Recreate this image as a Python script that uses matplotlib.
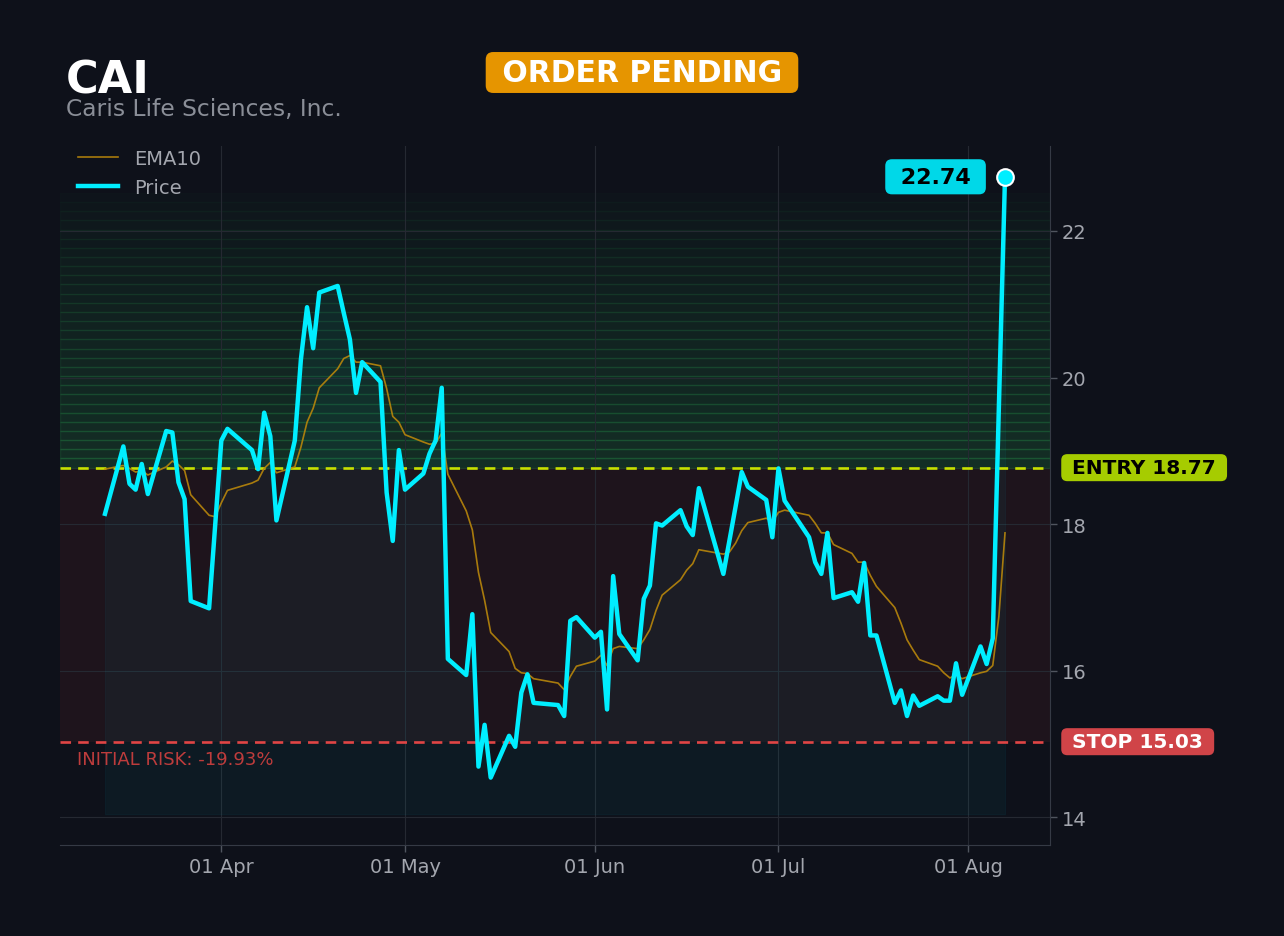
import matplotlib
matplotlib.use("Agg")
import matplotlib.pyplot as plt
import matplotlib.dates as mdates
import matplotlib.transforms as mtransforms
import pandas as pd

# ---------------- data ----------------
ticker = "CAI"
company = "Caris Life Sciences, Inc."
status = "ORDER PENDING"
entry_price = 18.77
stop_price = 15.03
target_price = 22.52
fill_floor = 14.04
risk_label = "INITIAL RISK: -19.93%"

dates = [
    "2026-03-13", "2026-03-16", "2026-03-17", "2026-03-18", "2026-03-19", "2026-03-20",
    "2026-03-23", "2026-03-24", "2026-03-25", "2026-03-26", "2026-03-27", "2026-03-30",
    "2026-03-31",
    "2026-04-01", "2026-04-02", "2026-04-06", "2026-04-07", "2026-04-08", "2026-04-09",
    "2026-04-10", "2026-04-13", "2026-04-14", "2026-04-15", "2026-04-16", "2026-04-17",
    "2026-04-20", "2026-04-21", "2026-04-22", "2026-04-23", "2026-04-24", "2026-04-27",
    "2026-04-28", "2026-04-29", "2026-04-30",
    "2026-05-01", "2026-05-04", "2026-05-05", "2026-05-06", "2026-05-07", "2026-05-08",
    "2026-05-11", "2026-05-12", "2026-05-13", "2026-05-14", "2026-05-15", "2026-05-18",
    "2026-05-19", "2026-05-20", "2026-05-21", "2026-05-22", "2026-05-26", "2026-05-27",
    "2026-05-28", "2026-05-29",
    "2026-06-01", "2026-06-02", "2026-06-03", "2026-06-04", "2026-06-05", "2026-06-08",
    "2026-06-09", "2026-06-10", "2026-06-11", "2026-06-12", "2026-06-15", "2026-06-16",
    "2026-06-17", "2026-06-18", "2026-06-22", "2026-06-23", "2026-06-24", "2026-06-25",
    "2026-06-26", "2026-06-29", "2026-06-30",
    "2026-07-01", "2026-07-02", "2026-07-06", "2026-07-07", "2026-07-08", "2026-07-09",
    "2026-07-10", "2026-07-13", "2026-07-14", "2026-07-15", "2026-07-16", "2026-07-17",
    "2026-07-20", "2026-07-21", "2026-07-22", "2026-07-23", "2026-07-24", "2026-07-27",
    "2026-07-28", "2026-07-29", "2026-07-30", "2026-07-31",
    "2026-08-03", "2026-08-04", "2026-08-05", "2026-08-06", "2026-08-07",
]

price = [
    18.14, 19.06, 18.55, 18.47, 18.82, 18.41, 19.27, 19.25, 18.57, 18.34, 16.95, 16.85, 17.99,
    19.14, 19.30, 19.01, 18.75, 19.52, 19.20, 18.05, 19.14, 20.25, 20.96, 20.40, 21.16,
    21.25, 20.88, 20.52, 19.79, 20.21, 19.94, 18.43, 17.77, 19.01,
    18.47, 18.69, 18.96, 19.14, 19.86, 16.16, 15.94, 16.77, 14.69, 15.26, 14.54, 15.11,
    14.96, 15.70, 15.95, 15.56, 15.53, 15.38, 16.68, 16.73,
    16.45, 16.53, 15.47, 17.29, 16.50, 16.14, 16.98, 17.16, 18.01, 17.98, 18.19, 17.97,
    17.85, 18.49, 17.32, 17.78, 18.24, 18.71, 18.51, 18.33, 17.82,
    18.76, 18.32, 17.82, 17.48, 17.32, 17.88, 16.99, 17.07, 16.94, 17.47, 16.48, 16.48,
    15.56, 15.73, 15.38, 15.66, 15.52, 15.65, 15.59, 15.59, 16.10, 15.67,
    16.33, 16.09, 16.44, 19.60, 22.74,
]

ema10 = [
    18.75, 18.80, 18.76, 18.71, 18.73, 18.67, 18.78, 18.86, 18.81, 18.73, 18.40, 18.12, 18.10,
    18.29, 18.46, 18.56, 18.60, 18.76, 18.84, 18.70, 18.78, 19.05, 19.39, 19.58, 19.86,
    20.12, 20.26, 20.30, 20.21, 20.21, 20.16, 19.85, 19.47, 19.39,
    19.22, 19.12, 19.09, 19.10, 19.24, 18.68, 18.18, 17.92, 17.34, 16.96, 16.52, 16.26,
    16.03, 15.97, 15.96, 15.89, 15.83, 15.74, 15.92, 16.06,
    16.13, 16.21, 16.07, 16.30, 16.33, 16.30, 16.42, 16.56, 16.82, 17.03, 17.24, 17.37,
    17.46, 17.65, 17.59, 17.62, 17.74, 17.91, 18.02, 18.08, 18.03,
    18.16, 18.19, 18.12, 18.01, 17.88, 17.88, 17.72, 17.60, 17.48, 17.48, 17.30, 17.15,
    16.86, 16.65, 16.42, 16.28, 16.15, 16.06, 15.97, 15.90, 15.94, 15.89,
    15.97, 15.99, 16.07, 16.74, 17.88,
]

y_ticks = [14, 16, 18, 20, 22]

# ---------------- style ----------------
BG = "#0e111a"
CYAN = "#00eeff"
TXT = "#a3a6ae"
GRID = "#252932"

dt = pd.to_datetime(dates)

fig = plt.figure(figsize=(12.84, 9.37), dpi=100, facecolor=BG)
ax = fig.add_axes([60 / 1284, 91 / 937, 990 / 1284, 699 / 937])
ax.set_facecolor(BG)

# risk zone
ax.axhspan(stop_price, entry_price, facecolor="#e03a3a", alpha=0.08, lw=0, zorder=0.1)

# profit zone gradient (stacked bands)
n_bands = 30
step = (target_price - entry_price) / n_bands
for i in range(n_bands):
    a = 0.19 * (1 - i / n_bands) ** 0.8 + 0.012
    ax.axhspan(entry_price + i * step, entry_price + (i + 1) * step,
               color="#2aa050", alpha=a, lw=1.0, zorder=0.2)

# area under price
ax.fill_between(dt, price, fill_floor, facecolor="#00e5ff", edgecolor="#00e5ff",
                alpha=0.045, lw=0.8, zorder=1)

# entry / stop lines
ax.axhline(entry_price, color="#c8e000", lw=1.9, ls=(0, (4, 2.7)), zorder=3)
ax.axhline(stop_price, color="#e04545", lw=1.9, ls=(0, (4, 2.7)), zorder=3)

# lines
ax.plot(dt, ema10, color="#b8860b", lw=1.2, alpha=0.9, label="EMA10", zorder=4)
ax.plot(dt, price, color=CYAN, lw=3.2, label="Price", zorder=5)
ax.plot(dt[-1], price[-1], "o", ms=12, mfc=CYAN, mec="white", mew=1.5, zorder=6)

# last price label
ax.annotate(f" {price[-1]:.2f} ", xy=(dt[-1], price[-1]), xytext=(-50, 0),
            textcoords="offset points", ha="center", va="center",
            fontsize=16, fontweight="bold", color="black",
            bbox=dict(boxstyle="round,pad=0.34,rounding_size=0.3", fc="#00d8e8", ec="none"),
            zorder=7)

# entry / stop tags on right
ax.annotate(f" ENTRY {entry_price:.2f} ", xy=(1, entry_price),
            xycoords=("axes fraction", "data"), xytext=(11, 0),
            textcoords="offset points", ha="left", va="center",
            fontsize=14.5, fontweight="bold", color="black",
            bbox=dict(boxstyle="round,pad=0.2,rounding_size=0.3", fc="#a6cc00", ec="none"))
ax.annotate(f" STOP {stop_price:.2f} ", xy=(1, stop_price),
            xycoords=("axes fraction", "data"), xytext=(11, 0),
            textcoords="offset points", ha="left", va="center",
            fontsize=14.5, fontweight="bold", color="white",
            bbox=dict(boxstyle="round,pad=0.2,rounding_size=0.3", fc="#d04448", ec="none"))

trans = mtransforms.blended_transform_factory(ax.transAxes, ax.transData)
ax.text(0.017, 14.79, risk_label, transform=trans, color="#be3c3c",
        fontsize=13, va="center", ha="left", zorder=7)

# axes styling
ax.set_ylim(13.62, 23.16)
ax.set_yticks(y_ticks)
ax.yaxis.tick_right()
ax.xaxis.set_major_locator(mdates.MonthLocator())
ax.xaxis.set_major_formatter(mdates.DateFormatter("%d %b"))
ax.tick_params(colors=TXT, labelsize=14, length=5, width=1)
ax.tick_params(axis="x", colors="#50555f", labelcolor=TXT)
ax.tick_params(axis="y", colors="#50555f", labelcolor=TXT)
for s in ("top", "left"):
    ax.spines[s].set_visible(False)
for s in ("right", "bottom"):
    ax.spines[s].set_color("#353a45")
ax.set_axisbelow(True)
ax.grid(True, color=GRID, lw=0.8)

leg = ax.legend(loc="upper left", bbox_to_anchor=(0, 1.021), frameon=False,
                fontsize=14, labelcolor=TXT, handlelength=2.1)

# header
fig.text(66 / 1284, 1 - 94 / 937, ticker, fontsize=32, fontweight="bold",
         color="white", ha="left", va="baseline")
fig.text(66 / 1284, 1 - 116 / 937, company, fontsize=16.8, color="#8a8e97",
         ha="left", va="baseline")
fig.text(0.5, 1 - 73.5 / 937, f" {status} ", fontsize=21.5, fontweight="bold",
         color="white", ha="center", va="center",
         bbox=dict(boxstyle="round,pad=0.2,rounding_size=0.25", fc="#e69500", ec="none"))

fig.savefig("out.png", dpi=100, facecolor=BG)
